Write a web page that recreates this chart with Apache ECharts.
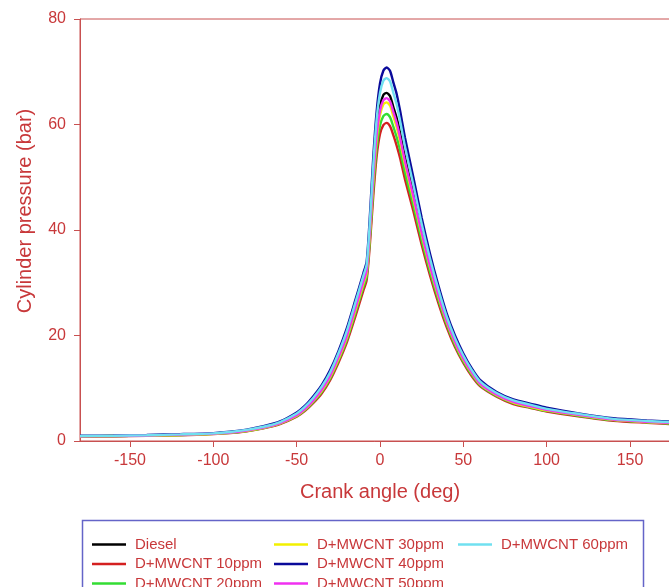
<!DOCTYPE html>
<html>
<head>
<meta charset="utf-8">
<script src="https://cdn.jsdelivr.net/npm/echarts@6/dist/echarts.min.js"></script>
<style>html,body{margin:0;padding:0;background:#fff;}#c{width:669px;height:587px;}</style>
</head>
<body>
<div id="c"></div>
<script>
const angles = [-180,-160,-140,-120,-100,-90,-80,-70,-60,-50,-45,-40,-35,-30,-25,-20,-15,-10,-8,-6,-4,-2,0,2,4,6,8,10,12,15,20,25,30,35,40,45,50,55,60,70,80,90,100,120,140,160,180];
const xTicks = [-150,-100,-50,0,50,100,150];
const seriesNames = ['Diesel','D+MWCNT 10ppm','D+MWCNT 20ppm','D+MWCNT 30ppm','D+MWCNT 40ppm','D+MWCNT 50ppm','D+MWCNT 60ppm'];
const colors = ['#000000','#d42020','#33dd33','#f2f000','#0a0a9a','#f030f0','#70e0f0'];
const diesel = [0.9,0.95,1.05,1.2,1.4,1.65,2.0,2.6,3.5,5.0,6.3,7.9,9.9,12.6,16.1,20.2,25.3,30.6,32.8,41.0,51.0,59.0,63.5,65.6,66.0,65.4,63.3,61.2,58.5,53.8,47.0,40.0,33.6,28.0,23.0,19.0,15.8,13.2,11.0,8.9,7.5,6.7,6.0,5.0,4.1,3.7,3.4];
const p10 = [0.85,0.9,1.0,1.1,1.3,1.5,1.85,2.4,3.2,4.6,5.7,7.2,9.0,11.5,14.8,18.6,23.4,28.5,30.5,37.6,46.6,54.0,58.2,59.9,60.3,59.7,58.0,56.0,53.7,49.6,43.6,37.2,31.4,26.2,21.6,17.8,14.8,12.3,10.4,8.4,7.0,6.3,5.6,4.65,3.85,3.45,3.1];
const p20 = [0.9,0.95,1.0,1.15,1.35,1.55,1.9,2.45,3.3,4.7,5.85,7.4,9.3,11.8,15.2,19.1,24.0,29.2,31.2,38.6,48.0,55.5,59.8,61.6,62.0,61.4,59.6,57.6,55.2,50.9,44.7,38.1,32.1,26.8,22.1,18.2,15.1,12.6,10.6,8.55,7.2,6.4,5.7,4.75,3.95,3.55,3.2];
const p30 = [0.9,0.95,1.0,1.15,1.35,1.6,1.95,2.5,3.35,4.8,6.0,7.6,9.5,12.1,15.5,19.5,24.5,29.8,31.9,39.7,49.5,57.2,61.8,63.8,64.2,63.6,61.6,59.5,56.9,52.4,45.9,39.1,32.9,27.4,22.6,18.6,15.4,12.9,10.8,8.7,7.3,6.5,5.8,4.85,4.0,3.6,3.3];
const p40 = [1.0,1.05,1.15,1.3,1.5,1.75,2.15,2.8,3.7,5.4,6.7,8.5,10.6,13.4,17.0,21.3,26.5,31.8,34.0,43.0,54.0,62.5,67.8,70.2,70.8,70.2,68.0,65.8,62.7,57.5,50.0,42.3,35.5,29.5,24.2,20.0,16.6,13.8,11.6,9.3,7.9,7.1,6.3,5.2,4.3,3.9,3.6];
const p50 = [0.9,0.95,1.05,1.2,1.4,1.6,2.0,2.55,3.4,4.9,6.1,7.7,9.7,12.3,15.8,19.8,24.9,30.2,32.3,40.3,50.2,58.0,62.6,64.6,65.0,64.4,62.4,60.3,57.6,53.0,46.4,39.5,33.2,27.7,22.8,18.8,15.6,13.0,10.9,8.8,7.4,6.6,5.9,4.9,4.05,3.65,3.35];
const p60 = [0.95,1.0,1.1,1.25,1.45,1.7,2.1,2.7,3.6,5.2,6.5,8.2,10.3,13.0,16.6,20.8,26.0,31.3,33.5,42.0,52.5,61.0,66.0,68.3,68.8,68.2,66.0,63.8,60.8,55.8,48.6,41.2,34.6,28.8,23.6,19.5,16.2,13.5,11.3,9.1,7.7,6.9,6.1,5.1,4.2,3.8,3.5];
const allValues = [diesel,p10,p20,p30,p40,p50,p60];

const axisColor = '#c85050';
const textColor = '#c8383a';
const font = 'Arial, "Liberation Sans", sans-serif';

const chart = echarts.init(document.getElementById('c'), null, {renderer:'canvas'});
const series = seriesNames.map((n,i)=>({
  name:n, type:'line', symbol:'none', smooth:0.25,
  data: angles.map((a,j)=>[a, allValues[i][j]]),
  lineStyle:{color:colors[i], width:2.4},
  itemStyle:{color:colors[i]},
  emphasis:{disabled:true}
}));
// legend item placement (column-major, 3 rows)
const legendCols = [92, 274, 458];
const legendRows = [537, 556.5, 576];
const legends = seriesNames.map((n,i)=>({
  left: legendCols[Math.floor(i/3)], top: legendRows[i%3], padding:0,
  icon:'rect', itemWidth:34, itemHeight:2.5,
  textStyle:{color:textColor, fontSize:15, fontFamily:font, padding:[0,0,0,4]},
  selectedMode:false, data:[n]
}));
chart.setOption({
  animation:false,
  backgroundColor:'#fff',
  grid:{left:80, top:19, right:-11, bottom:146, outerBoundsMode:'none', containLabel:false,
        show:true, borderColor:axisColor, borderWidth:1},
  xAxis:{type:'value', min:-180, max:180,
    name:'Crank angle (deg)', nameLocation:'middle', nameGap:41,
    nameTextStyle:{color:textColor, fontSize:20, fontFamily:font},
    axisLine:{show:true, onZero:false, lineStyle:{color:axisColor, width:1}},
    axisTick:{show:true, inside:false, length:6, customValues:xTicks, lineStyle:{color:axisColor}},
    axisLabel:{color:textColor, fontSize:16, fontFamily:font, margin:12, customValues:xTicks},
    splitLine:{show:false}
  },
  yAxis:{type:'value', min:0, max:80, interval:20,
    name:'Cylinder pressure (bar)', nameLocation:'middle', nameGap:45,
    nameTextStyle:{color:textColor, fontSize:20, fontFamily:font, padding:[0,0,0,38]},
    axisLine:{show:true, onZero:false, lineStyle:{color:axisColor, width:1}},
    axisTick:{show:true, inside:false, length:6, lineStyle:{color:axisColor}},
    axisLabel:{color:textColor, fontSize:16, fontFamily:font, margin:14},
    splitLine:{show:false}
  },
  legend: legends,
  graphic:[{type:'rect', left:80, top:518, shape:{width:561, height:100}, style:{fill:'none', stroke:'#6464c8', lineWidth:1.5}, silent:true}],
  series: series
});
</script>
</body>
</html>
